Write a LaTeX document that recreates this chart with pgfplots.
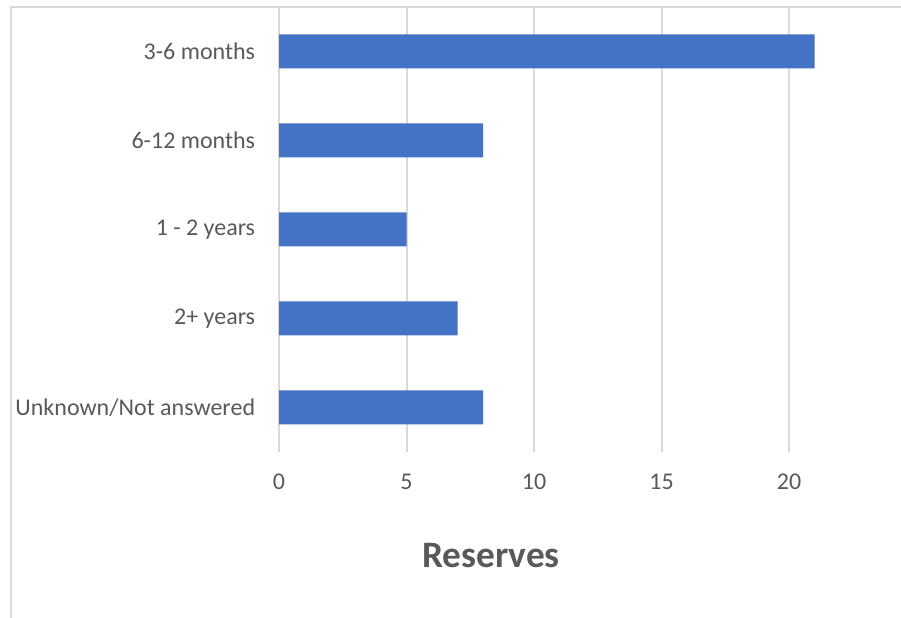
\documentclass[border=0pt]{standalone}
\usepackage{fontspec}
\setmainfont{Carlito}
\usepackage{pgfplots}
\pgfplotsset{compat=1.18}
\definecolor{barblue}{HTML}{4472C4}
\definecolor{gridgray}{HTML}{D9D9D9}
\definecolor{txtgray}{HTML}{595959}
\begin{document}
\begin{tikzpicture}
\useasboundingbox (0pt,0pt) rectangle (337.875pt,231.75pt);
\draw[gridgray, line width=0.75pt] (4.125pt,0pt) -- (4.125pt,229.125pt) -- (337.875pt,229.125pt);
\begin{axis}[
  at={(104.625pt,62.25pt)}, anchor=south west,
  scale only axis, width=233.25pt, height=166.875pt,
  xmin=0, xmax=24.39, ymin=-0.5, ymax=4.5,
  xbar, bar width=12.75pt,
  axis line style={draw=none}, tick style={draw=none},
  xmajorgrids, grid style={gridgray, line width=0.75pt},
  xtick={0,5,10,15,20}, ytick={0,1,2,3,4},
  yticklabels={Unknown/Not answered, 2+ years, 1 - 2 years, 6-12 months, 3-6 months},
  ticklabel style={font=\fontsize{9}{11}\selectfont, text=txtgray, inner sep=0pt},
  /pgf/number format/assume math mode=true,
  xticklabel style={anchor=center, yshift=-11.25pt},
  yticklabel style={anchor=east, xshift=-4.5pt},
]
\addplot[fill=barblue, draw=none] coordinates {(8,0) (7,1) (5,2) (8,3) (21,4)};
\end{axis}
\node[font=\fontsize{14}{17}\selectfont\bfseries, text=txtgray] at (184.125pt,23.25pt) {Reserves};
\end{tikzpicture}
\end{document}
